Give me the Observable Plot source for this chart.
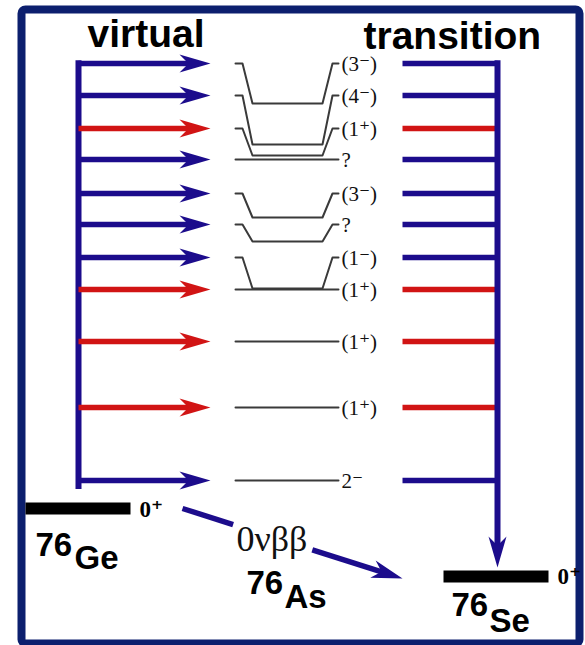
<!DOCTYPE html>
<html><head><meta charset="utf-8">
<script src="https://cdn.jsdelivr.net/npm/d3@7"></script>
<script src="https://cdn.jsdelivr.net/npm/@observablehq/plot@0.6"></script>
<style>html,body{margin:0;padding:0;background:#fff}#chart svg{display:block}</style>
</head><body><div id="chart"></div>
<script>
// ---- data ----
const states   = ["(3⁻)","(4⁻)","(1⁺)","?","(3⁻)","?","(1⁻)","(1⁺)","(1⁺)","(1⁺)","2⁻"];
const labelRow = [63, 95, 128, 159, 193, 224, 257, 289, 341, 407, 480];
const levelRow = [103, 144, 155, 159, 217, 241, 288, 289, 341, 407, 480];
const nuclei     = ["Ge", "As", "Se"];
const massNumber = ["76", "76", "76"];
const groundSpin = ["0⁺", "", "0⁺"];
const headings   = ["virtual", "transition"];
const decayLabel = ["0νββ"];

// ---- styles / layout ----
const BLUE = "#1c0c8c", RED = "#d11414", NAVY = "#0c1f6e", GRAY = "#3a3a3a";
const SERIF = "'Liberation Serif', 'Times New Roman', 'DejaVu Serif', serif";
const SANS = "'Liberation Sans', Arial, sans-serif";
const L = {
  bus: 78, tip: 210, lineEnd: 194,
  cx: [235, 242, 252, 322, 332, 338], labelX: 341,
  rStart: 402, rBus: 497
};
const NUC = {
  Ge: {bar: [25, 130], y: 508, mx: 35, my: 555, sx: 74, sy: 568, px: 139, py: 516},
  As: {mx: 246, my: 593, sx: 284, sy: 607},
  Se: {bar: [443, 548], y: 576, mx: 451, my: 615, sx: 489, sy: 631, px: 557, py: 583}
};
const HEAD = [{x: 87, y: 46}, {x: 363, y: 48}];

const rows = states.map((s, i) => ({state: s, labelY: labelRow[i], levelY: levelRow[i], kind: s === "(1⁺)" ? "1⁺" : "other"}));
const connectors = rows.flatMap((d, i) => {
  const ys = [d.labelY, d.labelY, d.levelY, d.levelY, d.labelY, d.labelY];
  return L.cx.map((x, k) => ({i, x, y: ys[k]}));
});
const nuc = nuclei.map((n, i) => ({name: n, mass: massNumber[i], spin: groundSpin[i], ...NUC[n]}));
const bars = nuc.filter(d => d.bar);

// arrowhead symbol pointing along angle (deg, clockwise, 0 = right), tip at origin
function head(angle) {
  const a = angle * Math.PI / 180, c = Math.cos(a), s = Math.sin(a);
  const pts = [[0, 0], [-31, -9], [-22, 0], [-31, 9]].map(([x, y]) => [x * c - y * s, x * s + y * c]);
  return {draw(ctx) { ctx.moveTo(...pts[0]); for (const p of pts.slice(1)) ctx.lineTo(...p); ctx.closePath(); }};
}

const busTop = labelRow[0] - 2.75;
const geY = NUC.Ge.y, seY = NUC.Se.y;
const dStart = [182, geY], dEnd = [402, seY + 2];
const dAng = Math.atan2(dEnd[1] - dStart[1], dEnd[0] - dStart[0]) * 180 / Math.PI;
const along = t => [dStart[0] + t * (dEnd[0] - dStart[0]), dStart[1] + t * (dEnd[1] - dStart[1])];
const decaySegs = [[0, 0.23], [0.59, 0.93]].map(([a, b]) => ({p: along(a), q: along(b)}));

const colorOpt = {domain: ["1⁺", "other"], range: [RED, BLUE]};

const chart = Plot.plot({
  width: 585, height: 645, margin: 0,
  x: {domain: [0, 585], range: [0, 585], axis: null},
  y: {domain: [0, 645], range: [0, 645], axis: null},
  color: colorOpt,
  style: {background: "white", overflow: "visible"},
  marks: [
    Plot.frame({stroke: NAVY, strokeWidth: 8, insetLeft: 21, insetTop: 9, insetRight: 6, insetBottom: 2, rx: 4}),
    // headings
    Plot.text(headings, {x: (d, i) => HEAD[i].x, y: (d, i) => HEAD[i].y, text: d => d, textAnchor: "start", lineAnchor: "bottom",
      fontFamily: SANS, fontWeight: "bold", fontSize: 39, fill: "#000"}),
    // left bus + arrows
    Plot.ruleX([L.bus], {y1: busTop, y2: labelRow[labelRow.length - 1] + 9, stroke: BLUE, strokeWidth: 6}),
    Plot.link(rows, {x1: L.bus, x2: L.lineEnd, y1: "labelY", y2: "labelY", stroke: "kind", strokeWidth: 5.5}),
    Plot.dot(rows, {x: L.tip, y: "labelY", symbol: head(0), fill: "kind", r: 5}),
    // level connectors
    Plot.line(connectors, {x: "x", y: "y", z: "i", stroke: GRAY, strokeWidth: 2, curve: "linear"}),
    Plot.text(rows, {x: L.labelX, y: "labelY", text: "state", textAnchor: "start", dy: 1,
      fontFamily: SERIF, fontSize: 21, fill: "#111"}),
    // right lines + bus
    Plot.link(rows, {x1: L.rStart, x2: L.rBus, y1: "labelY", y2: "labelY", stroke: "kind", strokeWidth: 5.5}),
    Plot.ruleX([L.rBus], {y1: busTop, y2: seY - 24, stroke: BLUE, strokeWidth: 6}),
    Plot.dot([L.rBus], {x: d => d, y: seY - 9, symbol: head(90), fill: BLUE, r: 5}),
    // ground states
    Plot.link(bars, {x1: d => d.bar[0], x2: d => d.bar[1], y1: "y", y2: "y", stroke: "#000", strokeWidth: 12}),
    Plot.text(nuc.filter(d => d.spin), {x: "px", y: "py", text: "spin", textAnchor: "start", lineAnchor: "bottom",
      fontFamily: SERIF, fontWeight: "bold", fontSize: 23, fill: "#000"}),
    Plot.text(nuc, {x: "mx", y: "my", text: "mass", textAnchor: "start", lineAnchor: "bottom",
      fontFamily: SANS, fontWeight: "bold", fontSize: 33, fill: "#000"}),
    Plot.text(nuc, {x: "sx", y: "sy", text: "name", textAnchor: "start", lineAnchor: "bottom",
      fontFamily: SANS, fontWeight: "bold", fontSize: 33, fill: "#000"}),
    // 0vbb decay arrow
    Plot.link(decaySegs, {x1: d => d.p[0], y1: d => d.p[1], x2: d => d.q[0], y2: d => d.q[1], stroke: BLUE, strokeWidth: 5.5}),
    Plot.dot([dEnd], {x: d => d[0], y: d => d[1], symbol: head(dAng), fill: BLUE, r: 5}),
    Plot.text(decayLabel, {x: 236, y: 550, text: d => d, textAnchor: "start", lineAnchor: "bottom",
      fontFamily: SERIF, fontSize: 36, fill: "#111"})
  ]
});
document.getElementById("chart").append(chart);
</script></body></html>
